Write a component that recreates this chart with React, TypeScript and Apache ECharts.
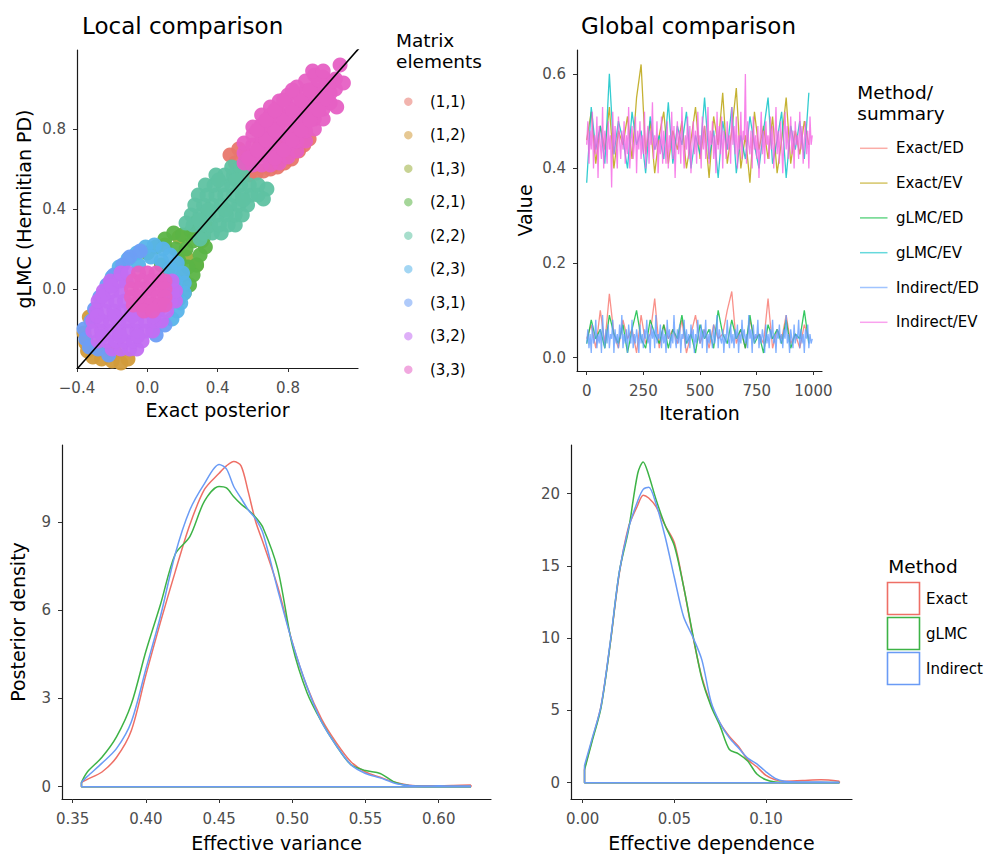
import React, { useEffect, useRef } from "react";
import * as echarts from "echarts";

const FONT = '"DejaVu Sans", "Liberation Sans", sans-serif';

// ---------- Local comparison (scatter) ----------
const ELEMENT_NAMES = ["(1,1)", "(1,2)", "(1,3)", "(2,1)", "(2,2)", "(2,3)", "(3,1)", "(3,2)", "(3,3)"];
const ELEMENT_COLORS = ["#E8776C", "#D29B3A", "#9BAE3C", "#5BB446", "#5FC2A2", "#58B4EA", "#6E9EF5", "#C36EF2", "#E660C4"];

const PTS_11 = [[0.47,0.67],[0.50,0.63],[0.52,0.70],[0.55,0.60],[0.58,0.57],[0.62,0.58],[0.66,0.59],[0.70,0.60],[0.74,0.61],[0.78,0.63],[0.82,0.65],[0.86,0.69],[0.89,0.72],[0.92,0.75],[0.60,0.66],[0.68,0.68],[0.76,0.72],[0.84,0.80],[0.90,0.88],[0.56,0.66],[0.64,0.72]];
const PTS_12 = [[-0.35,-0.27],[-0.34,-0.31],[-0.31,-0.34],[-0.26,-0.35],[-0.20,-0.36],[-0.15,-0.37],[-0.11,-0.35],[-0.36,-0.22],[-0.30,-0.29],[-0.24,-0.31],[-0.18,-0.32],[-0.33,-0.14]];
const PTS_13 = [[0.10,0.22],[0.18,0.26],[0.26,0.28],[0.31,0.24],[0.22,0.16],[0.28,0.12]];
const PTS_21 = [[0.00,0.18],[0.05,0.21],[0.10,0.25],[0.15,0.28],[0.20,0.27],[0.25,0.29],[0.29,0.30],[0.32,0.26],[0.33,0.21],[0.30,0.17],[0.28,0.12],[0.26,0.07],[0.24,0.02],[0.21,-0.02],[0.18,-0.05],[0.15,0.03],[0.12,0.10],[0.18,0.14],[0.22,0.20],[0.08,0.12],[0.26,0.24],[0.23,0.11],[0.20,0.07],[0.16,0.20],[0.34,0.31],[0.27,0.33]];
const PTS_22 = [[0.32,0.28],[0.37,0.28],[0.42,0.28],[0.26,0.32],[0.31,0.32],[0.36,0.32],[0.41,0.32],[0.46,0.32],[0.50,0.32],[0.25,0.37],[0.30,0.37],[0.35,0.37],[0.40,0.37],[0.45,0.37],[0.50,0.37],[0.54,0.37],[0.27,0.42],[0.32,0.42],[0.37,0.42],[0.42,0.42],[0.47,0.42],[0.52,0.42],[0.57,0.42],[0.29,0.47],[0.34,0.47],[0.39,0.47],[0.44,0.47],[0.49,0.47],[0.54,0.47],[0.59,0.47],[0.63,0.47],[0.33,0.52],[0.38,0.52],[0.43,0.52],[0.48,0.52],[0.53,0.52],[0.58,0.52],[0.63,0.52],[0.39,0.57],[0.44,0.57],[0.49,0.57],[0.54,0.57],[0.48,0.61],[0.53,0.61],[0.22,0.33],[0.68,0.50],[0.58,0.62],[0.30,0.25],[0.66,0.45],[0.345,0.395],[0.445,0.395],[0.545,0.445],[0.405,0.545],[0.505,0.545],[0.295,0.345]];
const PTS_23 = [[-0.16,0.11],[-0.11,0.15],[-0.06,0.18],[-0.01,0.21],[0.04,0.22],[0.09,0.20],[0.13,0.17],[0.17,0.13],[0.20,0.08],[0.21,0.03],[0.21,-0.02],[0.19,-0.07],[0.17,-0.11],[0.14,-0.15],[0.02,0.16],[0.08,0.14],[0.13,0.10],[0.16,0.04],[0.16,-0.03],[-0.05,0.12],[-0.20,0.06]];
const PTS_31 = [[-0.36,-0.20],[-0.35,-0.25],[-0.33,-0.29],[-0.32,-0.16],[-0.30,-0.10],[-0.27,-0.04],[-0.23,0.02],[-0.19,0.07],[-0.14,0.12],[-0.28,-0.30],[-0.22,-0.33],[-0.10,0.16],[-0.04,0.19],[0.10,-0.18],[0.05,-0.23]];
const PTS_32 = [[-0.20,-0.30],[-0.15,-0.30],[-0.10,-0.30],[-0.06,-0.30],[-0.28,-0.26],[-0.23,-0.26],[-0.18,-0.26],[-0.13,-0.26],[-0.08,-0.26],[-0.03,-0.26],[-0.31,-0.21],[-0.26,-0.21],[-0.21,-0.21],[-0.16,-0.21],[-0.11,-0.21],[-0.06,-0.21],[-0.01,-0.21],[0.03,-0.21],[-0.31,-0.16],[-0.26,-0.16],[-0.21,-0.16],[-0.16,-0.16],[-0.11,-0.16],[-0.06,-0.16],[-0.01,-0.16],[0.04,-0.16],[0.08,-0.16],[-0.29,-0.11],[-0.24,-0.11],[-0.19,-0.11],[-0.14,-0.11],[-0.09,-0.11],[-0.04,-0.11],[0.01,-0.11],[0.06,-0.11],[0.11,-0.11],[-0.28,-0.06],[-0.23,-0.06],[-0.18,-0.06],[-0.13,-0.06],[0.13,-0.06],[0.16,-0.06],[-0.25,-0.01],[-0.20,-0.01],[-0.15,-0.01],[0.14,-0.01],[0.16,-0.01],[-0.21,0.04],[-0.16,0.04],[-0.12,0.04],[0.14,0.04],[-0.15,0.08],[-0.11,0.08],[-0.255,-0.235],[-0.155,-0.235],[-0.055,-0.235],[-0.285,-0.135],[-0.185,-0.135],[-0.085,-0.135],[0.035,-0.135],[-0.255,-0.035],[-0.205,0.015]];
const PTS_33 = [[-0.05,0.08],[0.00,0.08],[0.05,0.08],[-0.08,0.04],[-0.03,0.04],[0.02,0.04],[0.07,0.04],[0.10,0.04],[-0.09,0.00],[-0.04,0.00],[0.01,0.00],[0.06,0.00],[0.10,0.00],[-0.09,-0.04],[-0.04,-0.04],[0.01,-0.04],[0.06,-0.04],[0.10,-0.04],[-0.08,-0.08],[-0.03,-0.08],[0.02,-0.08],[0.07,-0.08],[0.10,-0.08],[-0.02,-0.11],[0.03,-0.11],
  [0.55,0.63],[0.55,0.68],[0.55,0.73],[0.60,0.62],[0.60,0.67],[0.60,0.72],[0.60,0.77],[0.60,0.81],[0.65,0.62],[0.65,0.67],[0.65,0.72],[0.65,0.77],[0.65,0.82],[0.65,0.87],[0.70,0.62],[0.70,0.67],[0.70,0.72],[0.70,0.77],[0.70,0.82],[0.70,0.87],[0.70,0.91],[0.75,0.63],[0.75,0.68],[0.75,0.73],[0.75,0.78],[0.75,0.83],[0.75,0.88],[0.75,0.94],[0.80,0.66],[0.80,0.71],[0.80,0.76],[0.80,0.81],[0.80,0.86],[0.80,0.91],[0.80,0.97],[0.85,0.69],[0.85,0.74],[0.85,0.79],[0.85,0.84],[0.85,0.89],[0.85,0.94],[0.85,1.01],[0.90,0.74],[0.90,0.79],[0.90,0.84],[0.90,0.89],[0.90,0.94],[0.90,0.99],[0.90,1.04],[0.95,0.80],[0.95,0.85],[0.95,0.90],[0.95,0.95],[0.95,1.00],[0.95,1.07],[1.00,0.85],[1.00,0.90],[1.00,0.95],[1.00,1.00],[1.00,1.06],[1.04,0.93],[1.04,0.98],[1.04,1.03],[1.07,1.00],[1.07,1.05],
  [0.575,0.655],[0.625,0.695],[0.675,0.745],[0.725,0.795],[0.775,0.845],[0.825,0.895],[0.875,0.945],[0.925,0.995],[0.975,1.045],[0.625,0.795],[0.675,0.845],[0.725,0.895],[0.775,0.945],[0.825,0.995],[0.725,0.655],[0.775,0.695],[0.825,0.745],[0.875,0.795],[0.925,0.845],[0.975,0.895],[1.02,0.95],
  [0.94,1.09],[1.00,1.09],[1.06,1.04],[1.115,1.03],[1.077,0.91],[1.096,1.12]];
const ELEMENT_POINTS = [PTS_11, PTS_12, PTS_13, PTS_21, PTS_22, PTS_23, PTS_31, PTS_32, PTS_33];
const DIAGONAL = [[-0.5, -0.5], [1.3, 1.3]];

// ---------- Global comparison (traces) ----------
const TRACE_NAMES = ["Exact/ED", "Exact/EV", "gLMC/ED", "gLMC/EV", "Indirect/ED", "Indirect/EV"];
const TRACE_COLORS = ["#F8766D", "#B79F00", "#00BA38", "#00BFC4", "#619CFF", "#F564E3"];
const ITER_5 = [0,5,10,15,20,25,30,35,40,45,50,55,60,65,70,75,80,85,90,95,100,105,110,115,120,125,130,135,140,145,150,155,160,165,170,175,180,185,190,195,200,205,210,215,220,225,230,235,240,245,250,255,260,265,270,275,280,285,290,295,300,305,310,315,320,325,330,335,340,345,350,355,360,365,370,375,380,385,390,395,400,405,410,415,420,425,430,435,440,445,450,455,460,465,470,475,480,485,490,495,500,505,510,515,520,525,530,535,540,545,550,555,560,565,570,575,580,585,590,595,600,605,610,615,620,625,630,635,640,645,650,655,660,665,670,675,680,685,690,695,700,705,710,715,720,725,730,735,740,745,750,755,760,765,770,775,780,785,790,795,800,805,810,815,820,825,830,835,840,845,850,855,860,865,870,875,880,885,890,895,900,905,910,915,920,925,930,935,940,945,950,955,960,965,970,975,980,985,990,995];
const ITER_20 = [0,20,40,60,80,100,120,140,160,180,200,220,240,260,280,300,320,340,360,380,400,420,440,460,480,500,520,540,560,580,600,620,640,660,680,700,720,740,760,780,800,820,840,860,880,900,920,940,960,980];
const TR_EXACT_ED = [0.04,0.07,0.02,0.10,0.03,0.135,0.05,0.02,0.08,0.04,0.06,0.01,0.09,0.03,0.05,0.125,0.02,0.07,0.04,0.06,0.03,0.08,0.01,0.05,0.09,0.03,0.06,0.02,0.07,0.04,0.05,0.10,0.14,0.03,0.06,0.02,0.08,0.04,0.05,0.03,0.125,0.02,0.06,0.04,0.09,0.03,0.05,0.02,0.07,0.04];
const TR_EXACT_EV = [0.46,0.52,0.41,0.49,0.44,0.53,0.40,0.48,0.45,0.51,0.42,0.55,0.62,0.43,0.50,0.39,0.47,0.52,0.41,0.48,0.44,0.50,0.40,0.46,0.53,0.42,0.49,0.38,0.51,0.45,0.56,0.41,0.48,0.57,0.40,0.47,0.37,0.52,0.44,0.49,0.42,0.51,0.39,0.46,0.55,0.41,0.48,0.43,0.50,0.45];
const TR_GLMC_ED = [0.03,0.08,0.04,0.06,0.02,0.09,0.05,0.03,0.07,0.01,0.06,0.10,0.04,0.02,0.08,0.05,0.03,0.07,0.02,0.06,0.04,0.09,0.03,0.05,0.01,0.07,0.04,0.06,0.02,0.10,0.05,0.03,0.08,0.04,0.06,0.02,0.09,0.03,0.05,0.01,0.07,0.04,0.06,0.03,0.08,0.02,0.05,0.04,0.10,0.03];
const TR_GLMC_EV = [0.37,0.53,0.44,0.49,0.41,0.60,0.43,0.50,0.46,0.40,0.52,0.45,0.48,0.39,0.51,0.44,0.47,0.42,0.54,0.41,0.49,0.45,0.52,0.40,0.47,0.43,0.55,0.42,0.48,0.38,0.50,0.44,0.53,0.39,0.47,0.42,0.51,0.45,0.40,0.48,0.55,0.41,0.46,0.52,0.38,0.49,0.44,0.50,0.42,0.56];
const TR_INDIRECT_ED = [
  0.03,0.06,0.02,0.05,0.01,0.07,0.03,0.04,0.08,0.02, 0.05,0.03,0.06,0.01,0.09,0.04,0.02,0.06,0.03,0.07,
  0.02,0.05,0.04,0.08,0.01,0.06,0.03,0.05,0.02,0.07, 0.04,0.09,0.02,0.05,0.03,0.06,0.01,0.07,0.04,0.03,
  0.08,0.02,0.05,0.03,0.06,0.04,0.01,0.07,0.03,0.05, 0.02,0.06,0.04,0.08,0.03,0.05,0.01,0.07,0.04,0.06,
  0.02,0.09,0.03,0.05,0.04,0.07,0.02,0.06,0.03,0.05, 0.01,0.08,0.04,0.06,0.02,0.05,0.03,0.09,0.04,0.02,
  0.06,0.03,0.07,0.01,0.05,0.04,0.08,0.02,0.06,0.03, 0.05,0.02,0.07,0.04,0.06,0.01,0.05,0.03,0.08,0.04,
  0.03,0.07,0.02,0.06,0.04,0.08,0.01,0.05,0.03,0.06, 0.04,0.02,0.07,0.03,0.05,0.09,0.02,0.06,0.04,0.03,
  0.06,0.01,0.05,0.03,0.08,0.04,0.02,0.07,0.03,0.05, 0.02,0.06,0.04,0.07,0.01,0.05,0.03,0.08,0.04,0.06,
  0.03,0.05,0.02,0.09,0.04,0.06,0.01,0.07,0.03,0.05, 0.04,0.08,0.02,0.05,0.03,0.06,0.04,0.01,0.07,0.03,
  0.05,0.02,0.06,0.04,0.08,0.03,0.05,0.01,0.06,0.04, 0.07,0.03,0.05,0.02,0.06,0.04,0.09,0.03,0.05,0.01,
  0.06,0.04,0.02,0.07,0.03,0.05,0.04,0.08,0.02,0.06, 0.03,0.05,0.01,0.06,0.04,0.07,0.02,0.05,0.03,0.04];
const TR_INDIRECT_EV = [
  0.45,0.50,0.41,0.48,0.44,0.52,0.40,0.47,0.43,0.51, 0.38,0.49,0.45,0.42,0.53,0.40,0.48,0.46,0.41,0.50,
  0.44,0.47,0.36,0.52,0.43,0.49,0.45,0.40,0.51,0.46, 0.42,0.48,0.44,0.50,0.41,0.47,0.43,0.53,0.40,0.46,
  0.49,0.42,0.45,0.51,0.39,0.48,0.44,0.50,0.42,0.47, 0.43,0.52,0.40,0.46,0.49,0.41,0.48,0.45,0.54,0.42,
  0.47,0.44,0.50,0.39,0.46,0.43,0.51,0.41,0.48,0.45, 0.41,0.50,0.40,0.47,0.44,0.52,0.42,0.49,0.38,0.46,
  0.50,0.43,0.48,0.41,0.53,0.45,0.40,0.47,0.44,0.51, 0.42,0.49,0.39,0.46,0.50,0.43,0.48,0.41,0.52,0.45,
  0.47,0.40,0.51,0.44,0.49,0.42,0.46,0.53,0.41,0.48, 0.45,0.50,0.42,0.47,0.39,0.52,0.44,0.49,0.43,0.51,
  0.40,0.48,0.46,0.42,0.50,0.44,0.47,0.41,0.53,0.45, 0.49,0.43,0.51,0.40,0.47,0.44,0.52,0.42,0.48,0.46,
  0.60,0.41,0.50,0.45,0.43,0.48,0.40,0.51,0.44,0.47, 0.42,0.49,0.38,0.46,0.52,0.43,0.48,0.41,0.50,0.45,
  0.47,0.42,0.51,0.44,0.49,0.40,0.46,0.53,0.43,0.48, 0.41,0.50,0.45,0.39,0.47,0.52,0.44,0.49,0.42,0.46,
  0.51,0.43,0.48,0.40,0.50,0.45,0.47,0.42,0.52,0.44, 0.49,0.41,0.46,0.50,0.43,0.48,0.40,0.51,0.45,0.47];
const TRACE_ITERS = [ITER_20, ITER_20, ITER_20, ITER_20, ITER_5, ITER_5];
const TRACE_VALUES = [TR_EXACT_ED, TR_EXACT_EV, TR_GLMC_ED, TR_GLMC_EV, TR_INDIRECT_ED, TR_INDIRECT_EV];

// ---------- Posterior densities ----------
const METHOD_NAMES = ["Exact", "gLMC", "Indirect"];
const METHOD_COLORS = ["#EE6F66", "#3DB346", "#6A9BF5"];
const DV_X = [0.356,0.36,0.37,0.38,0.39,0.40,0.41,0.42,0.43,0.44,0.45,0.455,0.46,0.465,0.47,0.475,0.48,0.49,0.50,0.51,0.52,0.53,0.54,0.55,0.56,0.57,0.58,0.59,0.60,0.61,0.622];
const DV_EXACT = [0.15,0.25,0.5,1.0,1.9,3.8,5.6,7.3,8.9,10.1,10.65,10.9,11.05,10.9,10.0,9.0,8.3,6.8,4.9,3.4,2.3,1.5,0.85,0.5,0.32,0.15,0.05,0.03,0.03,0.04,0.06];
const DV_GLMC = [0.15,0.5,1.0,1.7,2.8,4.6,6.2,7.9,8.5,9.7,10.2,10.15,9.85,9.6,9.4,9.15,8.8,7.4,4.8,3.2,2.2,1.4,0.75,0.55,0.45,0.15,0.03,0.01,0.01,0.01,0.01];
const DV_INDIRECT = [0.15,0.35,0.8,1.3,2.2,4.0,5.8,7.9,9.4,10.3,10.95,10.8,10.2,9.8,9.4,9.1,8.6,6.7,4.9,3.4,2.2,1.4,0.75,0.45,0.3,0.12,0.04,0.02,0.03,0.02,0.02];
const DD_X = [0.001,0.005,0.01,0.015,0.02,0.025,0.03,0.033,0.036,0.04,0.045,0.05,0.055,0.06,0.065,0.07,0.075,0.08,0.085,0.09,0.095,0.1,0.105,0.11,0.12,0.13,0.14];
const DD_EXACT = [1.0,2.9,5.3,9.6,14.5,17.7,19.2,19.9,19.7,19.1,17.8,16.6,13.6,10.2,7.3,5.4,4.1,3.2,2.5,1.6,1.1,0.5,0.2,0.1,0.15,0.2,0.1];
const DD_GLMC = [0.9,2.8,5.2,9.6,14.6,17.5,21.4,22.2,21.3,19.6,17.8,16.4,13.6,10.3,7.2,5.3,3.9,2.3,2.0,1.5,0.6,0.2,0.05,0.02,0.01,0.01,0.01];
const DD_INDIRECT = [1.2,3.0,5.3,9.7,14.6,17.6,19.5,20.3,20.45,19.3,17.0,14.2,11.5,10.1,8.5,5.6,4.1,3.1,2.4,1.7,1.3,0.75,0.3,0.1,0.05,0.04,0.03];
const DV_CURVES = [DV_EXACT, DV_GLMC, DV_INDIRECT];
const DD_CURVES = [DD_EXACT, DD_GLMC, DD_INDIRECT];

// ---------- tick labels ----------
const SC_XTICKS = [-0.4, 0, 0.4, 0.8];
const SC_YTICKS = [0, 0.4, 0.8];
const TR_XTICKS = [0, 250, 500, 750, 1000];
const TR_YTICKS = [0, 0.2, 0.4, 0.6];
const DV_XTICKS = [0.35, 0.4, 0.45, 0.5, 0.55, 0.6];
const DV_YTICKS = [0, 3, 6, 9];
const DD_XTICKS = [0, 0.05, 0.1];
const DD_YTICKS = [0, 5, 10, 15, 20];

const fmt1 = (v: number) => (v < 0 ? "\u2212" + Math.abs(v).toFixed(1) : v.toFixed(1));
const fmt2 = (v: number) => v.toFixed(2);
const fmt0 = (v: number) => String(Math.round(v));

function axis(gridIndex: number, min: number, max: number, ticks: number[], fmt: (v: number) => string, name: string, nameGap: number, margin: number) {
  return {
    type: "value",
    gridIndex,
    min,
    max,
    name,
    nameLocation: "middle",
    nameGap,
    nameTextStyle: { fontFamily: FONT, fontSize: 19, color: "#000" },
    axisLine: { show: true, onZero: false, lineStyle: { color: "#1a1a1a", width: 1.2 } },
    axisTick: { show: true, length: 4, customValues: ticks, lineStyle: { color: "#333", width: 1 } },
    axisLabel: { show: true, customValues: ticks, formatter: fmt, color: "#4D4D4D", fontFamily: FONT, fontSize: 15, margin },
    splitLine: { show: false },
  };
}

function textEl(text: string, x: number, y: number, size: number, align = "left") {
  return {
    type: "text",
    x,
    y,
    silent: true,
    style: { text, fontFamily: FONT, fontSize: size, fill: "#000", textAlign: align, align, textVerticalAlign: "middle", verticalAlign: "middle" },
  };
}

export default function App() {
  const ref = useRef<HTMLDivElement>(null);
  useEffect(() => {
    if (!ref.current) return;
    const chart = echarts.init(ref.current, undefined, { renderer: "svg" });

    const series: any[] = [];
    ELEMENT_POINTS.forEach((pts, i) => {
      series.push({
        type: "scatter",
        name: ELEMENT_NAMES[i],
        xAxisIndex: 0,
        yAxisIndex: 0,
        data: pts,
        symbolSize: 15,
        itemStyle: { color: ELEMENT_COLORS[i], opacity: 0.95 },
        silent: true,
      });
    });
    series.push({
      type: "line",
      name: "y = x",
      xAxisIndex: 0,
      yAxisIndex: 0,
      data: DIAGONAL,
      showSymbol: false,
      symbol: "none",
      clip: true,
      lineStyle: { color: "#000", width: 1.6 },
      z: 5,
      silent: true,
    });
    TRACE_VALUES.forEach((vals, i) => {
      const top = i >= 4;
      series.push({
        type: "line",
        name: TRACE_NAMES[i],
        xAxisIndex: 1,
        yAxisIndex: 1,
        data: vals.map((v, j) => [TRACE_ITERS[i][j], v]),
        showSymbol: false,
        symbol: "none",
        lineStyle: { color: TRACE_COLORS[i], width: top ? 1.3 : 1.3, opacity: 0.8 },
        silent: true,
      });
    });
    const densityPanels = [
      { axis: 2, xs: DV_X, curves: DV_CURVES },
      { axis: 3, xs: DD_X, curves: DD_CURVES },
    ];
    densityPanels.forEach((p) => {
      p.curves.forEach((ys, i) => {
        const first = p.xs[0];
        const last = p.xs[p.xs.length - 1];
        series.push({
          type: "line",
          name: METHOD_NAMES[i],
          xAxisIndex: p.axis,
          yAxisIndex: p.axis,
          data: p.xs.map((x, j) => [x, ys[j]]),
          smooth: 0.3,
          showSymbol: false,
          symbol: "none",
          lineStyle: { color: METHOD_COLORS[i], width: 1.5 },
          silent: true,
        });
        series.push({
          type: "line",
          name: METHOD_NAMES[i] + " baseline",
          xAxisIndex: p.axis,
          yAxisIndex: p.axis,
          data: [[first, ys[0]], [first, 0], [last, 0], [last, ys[ys.length - 1]]],
          showSymbol: false,
          symbol: "none",
          lineStyle: { color: METHOD_COLORS[i], width: 1.5 },
          silent: true,
        });
      });
    });

    const graphic: any[] = [];
    graphic.push(textEl("Matrix", 396, 40.8, 18.5));
    graphic.push(textEl("elements", 396, 61, 18.5));
    ELEMENT_NAMES.forEach((n, i) => {
      const cy = 101.7 + i * 33.5;
      graphic.push({ type: "circle", silent: true, shape: { cx: 408.3, cy, r: 4.2 }, style: { fill: ELEMENT_COLORS[i], opacity: 0.55 } });
      graphic.push(textEl(n, 430, cy, 15));
    });
    graphic.push(textEl("Method/", 857.3, 92.8, 18.5));
    graphic.push(textEl("summary", 857.3, 113.8, 18.5));
    TRACE_NAMES.forEach((n, i) => {
      const cy = 148.3 + i * 34.8;
      graphic.push({ type: "line", silent: true, shape: { x1: 860, y1: cy, x2: 887.5, y2: cy }, style: { stroke: TRACE_COLORS[i], lineWidth: 1.5, opacity: 0.6 } });
      graphic.push(textEl(n, 896, cy, 15));
    });
    graphic.push(textEl("Method", 888.3, 566.2, 18.5));
    METHOD_NAMES.forEach((n, i) => {
      const y0 = 582.5 + i * 35;
      graphic.push({ type: "rect", silent: true, shape: { x: 887.5, y: y0, width: 32, height: 32 }, style: { fill: "#fff", stroke: METHOD_COLORS[i], lineWidth: 1.6 } });
      graphic.push(textEl(n, 926, y0 + 16, 15));
    });

    chart.setOption({
      animation: false,
      backgroundColor: "#fff",
      textStyle: { fontFamily: FONT },
      title: [
        { text: "Local comparison", left: 77, top: 9, textStyle: { fontFamily: FONT, fontSize: 23, fontWeight: "normal", color: "#000" } },
        { text: "Global comparison", left: 576, top: 9, textStyle: { fontFamily: FONT, fontSize: 23, fontWeight: "normal", color: "#000" } },
      ],
      grid: [
        { left: 77, top: 50, width: 281, height: 318 },
        { left: 577, top: 50, width: 245, height: 321 },
        { left: 62, top: 445, width: 429, height: 354 },
        { left: 571, top: 445, width: 281, height: 354 },
      ],
      xAxis: [
        axis(0, -0.4, 1.198, SC_XTICKS, fmt1, "Exact posterior", 32, 12),
        axis(1, -42.8, 1038, TR_XTICKS, fmt0, "Iteration", 32, 12),
        axis(2, 0.3427, 0.6357, DV_XTICKS, fmt2, "Effective variance", 34, 12),
        axis(3, -0.00638, 0.1469, DD_XTICKS, fmt2, "Effective dependence", 34, 12),
      ],
      yAxis: [
        axis(0, -0.395, 1.195, SC_YTICKS, fmt1, "gLMC (Hermitian PD)", 44, 11),
        axis(1, -0.0281, 0.6505, TR_YTICKS, fmt1, "Value", 43, 11),
        axis(2, -0.418, 11.61, DV_YTICKS, fmt0, "Posterior density", 35, 11),
        axis(3, -1.128, 23.37, DD_YTICKS, fmt0, "", 30, 11),
      ],
      series,
      graphic,
    });
    return () => chart.dispose();
  }, []);
  return <div ref={ref} style={{ position: "fixed", left: 0, top: 0, width: 989, height: 857, background: "#fff" }} />;
}
